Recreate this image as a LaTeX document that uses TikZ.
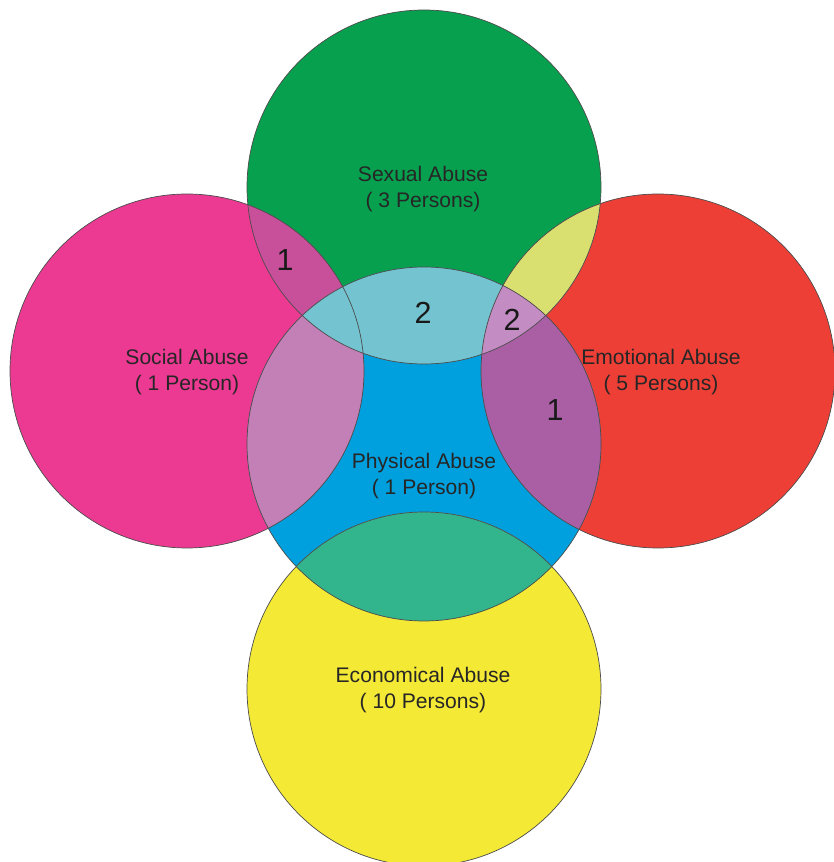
\documentclass[tikz,border=0pt]{standalone}
\usepackage{fontspec}
\setmainfont{Liberation Sans}
\definecolor{sexgreen}{RGB}{7,160,79}
\definecolor{socpink}{RGB}{236,58,147}
\definecolor{emored}{RGB}{238,63,55}
\definecolor{phyblue}{RGB}{0,160,223}
\definecolor{ecoyellow}{RGB}{244,233,53}
\definecolor{socsex}{RGB}{200,80,155}
\definecolor{socphy}{RGB}{195,128,182}
\definecolor{sexphy}{RGB}{115,196,208}
\definecolor{sexemo}{RGB}{218,224,112}
\definecolor{phyemo}{RGB}{170,95,165}
\definecolor{sexphyemo}{RGB}{195,140,195}
\definecolor{phyeco}{RGB}{50,180,140}

\begin{document}
\begin{tikzpicture}[x=0.03cm,y=0.03cm,
  lbl/.style={align=center,font=\fontsize{18}{22}\selectfont,text=black!85},
  num/.style={font=\fontsize{26}{30}\selectfont,text=black!90},
  rim/.style={draw=black!70,line width=0.6pt}]
  \useasboundingbox (0,0) rectangle (833,862);
  \def\rad{177}
  \coordinate (sexual) at (424,675);
  \coordinate (social) at (187,491);
  \coordinate (emotional) at (658,491);
  \coordinate (physical) at (424,418);
  \coordinate (economical) at (424,173);
  % plain circles
  \fill[sexgreen] (sexual) circle (\rad);
  \fill[socpink] (social) circle (\rad);
  \fill[emored] (emotional) circle (\rad);
  \fill[phyblue] (physical) circle (\rad);
  \fill[ecoyellow] (economical) circle (\rad);
  % overlaps
  \begin{scope}
    \clip (social) circle (\rad);
    \fill[socsex] (sexual) circle (\rad);
    \fill[socphy] (physical) circle (\rad);
  \end{scope}
  \begin{scope}
    \clip (sexual) circle (\rad);
    \fill[sexphy] (physical) circle (\rad);
    \fill[sexemo] (emotional) circle (\rad);
  \end{scope}
  \begin{scope}
    \clip (physical) circle (\rad);
    \fill[phyemo] (emotional) circle (\rad);
    \fill[phyeco] (economical) circle (\rad);
    \clip (sexual) circle (\rad);
    \fill[sexphyemo] (emotional) circle (\rad);
  \end{scope}
  % outlines
  \foreach \c in {sexual,social,emotional,physical,economical}
    \draw[rim] (\c) circle (\rad);
  % labels
  \node[lbl] (sexlbl) at (423,673) {Sexual Abuse\\( 3 Persons)};
  \node[lbl] (soclbl) at (187,490) {Social Abuse\\( 1 Person)};
  \node[lbl] (emolbl) at (661,490) {Emotional Abuse\\( 5 Persons)};
  \node[lbl] (phylbl) at (424,386) {Physical Abuse\\( 1 Person)};
  \node[lbl] (ecolbl) at (423,172) {Economical Abuse\\( 10 Persons)};
  \node[num] (nsocsex) at (285,602) {1};
  \node[num] (nsexphy) at (423,549) {2};
  \node[num] (nsexphyemo) at (512,542) {2};
  \node[num] (nphyemo) at (555,452) {1};
\end{tikzpicture}
\end{document}
